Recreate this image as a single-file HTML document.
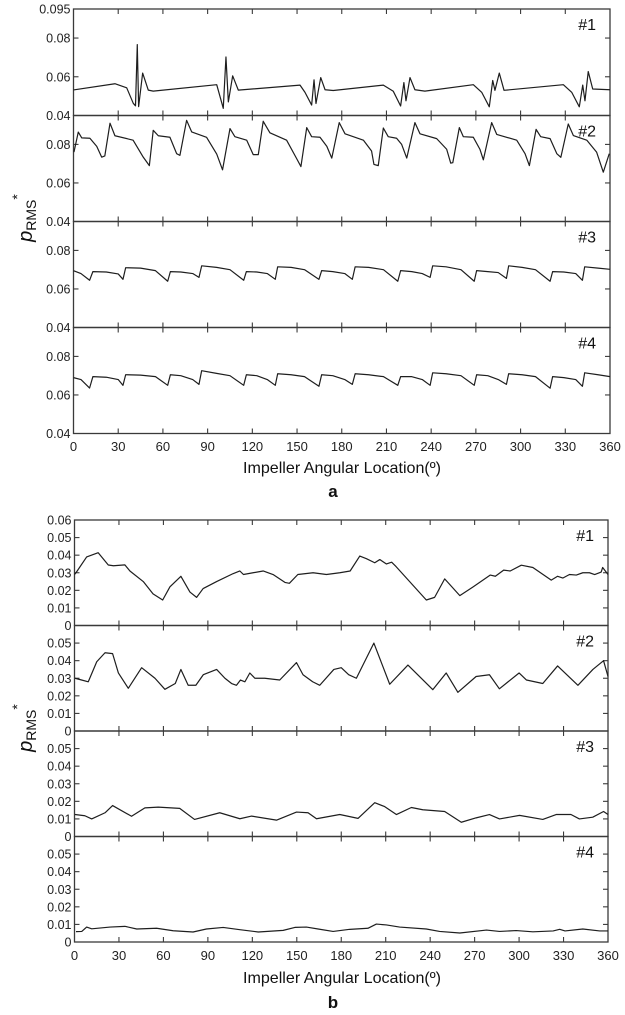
<!DOCTYPE html>
<html><head><meta charset="utf-8"><style>
html,body{margin:0;padding:0;background:#fff;}
svg{display:block;font-family:"Liberation Sans",Arial,sans-serif;}
</style></head><body>
<svg id="fig" width="625" height="1015" viewBox="0 0 625 1015" xmlns="http://www.w3.org/2000/svg"></svg>
<script>
// ---------- data: chart a ----------
const angleTicks = [0,30,60,90,120,150,180,210,240,270,300,330,360];
const a1Angles = [0,27.8,35.7,40.1,41.6,42.8,43.7,46.4,50.2,53.5,96.1,100.5,102.3,103.9,106.8,110.6,152,155.3,159.8,161.4,162.7,165.9,168.8,174.3,207.9,214.6,219.5,221.7,223.1,225.8,229.1,235.8,268.3,273.9,279,281.3,282.8,285.7,288.9,328.7,334.3,339.4,341.7,343.2,345.4,348.4,360];
const a1Values = [0.0532,0.0564,0.0543,0.0463,0.045,0.0766,0.0446,0.0619,0.0531,0.0526,0.0559,0.0437,0.0702,0.047,0.0605,0.0531,0.0557,0.052,0.0454,0.0584,0.0462,0.0596,0.0533,0.0529,0.0557,0.0525,0.0449,0.057,0.0476,0.0596,0.0533,0.0526,0.0559,0.052,0.0445,0.0581,0.053,0.0619,0.053,0.0559,0.052,0.0445,0.0557,0.0476,0.0627,0.0537,0.0533];
const a2Angles = [0.3,3.2,5.5,11,15.6,18.9,21,24.5,27.8,40,46.8,50.9,53.5,56.9,64.7,69.2,71.4,75.9,79.3,89.3,96.1,100,105,108.3,116.2,120.6,124,127.3,131.8,143,149.7,152.6,156.5,159.8,165.4,170,173.3,178.3,182.2,194.5,200,201.6,204.5,207.9,211.2,216.8,220.2,223.6,229.1,232.5,243.7,250.4,253.1,254.5,258.9,261.6,268.3,272.7,275,280.6,284,297.4,303,305.9,310.4,313.5,319.8,324.3,327,332,335.4,344.4,351,355.5,359.5];
const a2Values = [0.076,0.0864,0.0834,0.0832,0.079,0.0734,0.074,0.091,0.0845,0.0822,0.0734,0.069,0.0873,0.0845,0.0837,0.0752,0.0743,0.0925,0.0865,0.0837,0.075,0.0668,0.0882,0.084,0.0822,0.0747,0.0747,0.092,0.086,0.0822,0.0727,0.0685,0.0887,0.084,0.0837,0.079,0.0729,0.0913,0.0855,0.0822,0.0766,0.0696,0.069,0.0885,0.084,0.0832,0.08,0.0729,0.0913,0.0855,0.083,0.0775,0.0703,0.0705,0.0887,0.084,0.0837,0.0775,0.072,0.0913,0.0852,0.0822,0.0752,0.069,0.0878,0.084,0.083,0.0752,0.0733,0.0906,0.0846,0.0822,0.076,0.0656,0.0752];
const a3Angles = [0,5,10.8,13,22,30,33.2,35,45,55,63.2,65,72,80,84.2,86,96,105,114.2,116,123,130,135.4,137,146,155,164.7,166.5,174,182,187.1,189,198,208,217.6,219.5,227,234,239.3,241,250,260,268.9,270.5,278,285,290.5,292,301,310,319.8,321.5,329,337,341.5,343,352,360];
const a3Values = [0.0695,0.068,0.0645,0.069,0.0688,0.0678,0.065,0.071,0.0708,0.0695,0.064,0.069,0.0688,0.068,0.066,0.072,0.0712,0.070,0.0645,0.069,0.0688,0.068,0.065,0.0715,0.0712,0.070,0.065,0.0695,0.069,0.068,0.065,0.0715,0.0712,0.070,0.064,0.0695,0.069,0.068,0.066,0.072,0.0715,0.070,0.064,0.0695,0.069,0.0685,0.0655,0.072,0.0712,0.070,0.064,0.069,0.0688,0.068,0.0645,0.0715,0.0708,0.0702];
const a4Angles = [0,5,10.8,13,22,30,33.2,35,45,55,63.2,65,72,80,84.2,86,96,105,114.2,116,123,130,135.4,137,146,155,164.7,166.5,174,182,187.1,189,198,208,217.6,219.5,227,234,239.3,241,250,260,268.9,270.5,278,285,290.5,292,301,310,319.8,321.5,329,337,341.5,343,352,360];
const a4Values = [0.069,0.068,0.0636,0.0695,0.0692,0.068,0.065,0.0705,0.0703,0.0695,0.065,0.0705,0.070,0.068,0.0655,0.0726,0.0712,0.070,0.065,0.0705,0.070,0.068,0.065,0.071,0.0705,0.0695,0.0645,0.0705,0.070,0.068,0.0655,0.071,0.0705,0.0695,0.065,0.0695,0.0695,0.068,0.065,0.0715,0.071,0.070,0.065,0.0705,0.070,0.068,0.0655,0.071,0.0705,0.0695,0.0635,0.0695,0.069,0.068,0.0645,0.0715,0.0705,0.0695];
const aYTicksTop = [0.095,0.08,0.06,0.04];
const aYTicks = [0.08,0.06,0.04];

// ---------- data: chart b ----------
const b1Angles = [0,1,8.2,16,22.8,26.3,34,37.4,46.4,53,59.5,64.4,71.8,77.9,82.4,86.8,95.9,107,111.6,114,120.5,127.3,134,142,145,150.7,161,170,179,186,192.5,197,202.6,206,210.5,214,217,237.4,243,249.8,260,269,280.6,284,289.6,294,301.5,309.3,321.7,326,329.6,334,338.6,343,347.5,351,355.4,356.4,360];
const b1Values = [0.029,0.030,0.039,0.0414,0.0344,0.034,0.0345,0.031,0.025,0.018,0.0145,0.022,0.028,0.019,0.016,0.021,0.025,0.0295,0.031,0.029,0.030,0.031,0.029,0.0245,0.024,0.029,0.030,0.029,0.030,0.031,0.0395,0.038,0.0357,0.0375,0.035,0.036,0.0335,0.0145,0.016,0.0265,0.017,0.022,0.0287,0.028,0.0315,0.031,0.0343,0.033,0.0258,0.028,0.027,0.029,0.0287,0.030,0.030,0.029,0.0304,0.033,0.029];
const b2Angles = [0.3,4.8,9.3,15,20.6,25.7,29.6,36.3,45.3,54.3,61,68,71.8,76.7,81.9,86.9,95.9,101.5,106,109.3,112,115,118.3,121.7,128.4,138.5,149.8,154.2,160.7,165.5,175,180,185,190.2,202,212.7,225,241.8,250.8,258.7,271,280,286.7,300,305,316,326,339.7,349.8,357,360];
const b2Values = [0.030,0.029,0.028,0.0394,0.0445,0.044,0.033,0.0243,0.036,0.030,0.0237,0.027,0.035,0.026,0.026,0.032,0.035,0.030,0.027,0.026,0.029,0.028,0.033,0.030,0.030,0.029,0.0389,0.032,0.028,0.026,0.035,0.036,0.032,0.030,0.050,0.0266,0.0375,0.0235,0.033,0.022,0.031,0.032,0.024,0.033,0.029,0.027,0.037,0.026,0.035,0.040,0.031];
const b3Angles = [0.3,7,11.6,20.6,25.7,38.5,47.5,56.5,71,81,98,111.6,119.5,136.3,149.8,157.6,163.3,179,191.3,202.6,209.3,217.2,227.3,235,249.8,261,271,280,286.8,300.3,316,325,335,340.7,349.7,357,360];
const b3Values = [0.0125,0.0118,0.010,0.0135,0.0176,0.0115,0.0163,0.0167,0.016,0.0097,0.0135,0.0101,0.0116,0.0093,0.0139,0.0135,0.0101,0.0125,0.0103,0.0192,0.017,0.0125,0.0165,0.0152,0.0142,0.0081,0.0106,0.0125,0.010,0.012,0.0097,0.0125,0.0125,0.010,0.011,0.0142,0.0125];
const b4Angles = [1,4.9,8.2,11.6,24,34,42,55.4,66.6,80,89,100.3,111.6,124,140.8,148.7,156.5,164.4,174.5,185.7,198,203.7,210.5,219.4,237.4,246.4,260,278,286.8,298,309.3,323,327.4,331,343,354.4,360];
const b4Values = [0.0059,0.006,0.0085,0.0075,0.0085,0.0089,0.0074,0.0078,0.0064,0.0057,0.0074,0.0083,0.007,0.0057,0.0066,0.0083,0.0085,0.0074,0.006,0.0072,0.0078,0.0102,0.0097,0.0085,0.0074,0.006,0.0051,0.0068,0.006,0.0065,0.0058,0.0063,0.0072,0.0063,0.0074,0.0063,0.0063];
const bYTicksTop = [0.06,0.05,0.04,0.03,0.02,0.01,0];
const bYTicks = [0.05,0.04,0.03,0.02,0.01,0];

const NS = "http://www.w3.org/2000/svg";
const svg = document.getElementById('fig');
function mk(tag, attrs, parent){
  const e = document.createElementNS(NS, tag);
  for (const k in attrs) e.setAttribute(k, attrs[k]);
  (parent||svg).appendChild(e);
  return e;
}

function drawPanel(opt){
  const g = mk('g', {});
  
  
  const L=opt.x0, R=opt.x1, T=opt.top, B=opt.bot;
  const xs = a => L + (a-0)/(360-0)*(R-L);
  const ys = v => B - (v-opt.ymin)/(opt.ymax-opt.ymin)*(B-T);
  const fr = mk('rect', {x:L, y:T, width:R-L, height:B-T, fill:'none', stroke:'#3a3a3a', 'stroke-width':1.3}, g);
  
  
  angleTicks.forEach(a=>{
    if (a===0||a===360) return;
    const t1 = mk('line', {x1:xs(a), x2:xs(a), y1:T, y2:T+5, stroke:'#3a3a3a','stroke-width':1.1}, g);
    
    
    const t2 = mk('line', {x1:xs(a), x2:xs(a), y1:B, y2:B-5, stroke:'#3a3a3a','stroke-width':1.1}, g);
    
    
  });
  opt.yticks.forEach(v=>{
    const y = ys(v);
    if (Math.abs(y-T)>1 && Math.abs(y-B)>1){
      const l1 = mk('line', {x1:L, x2:L+5, y1:y, y2:y, stroke:'#3a3a3a','stroke-width':1.1}, g);
      
      
      const l2 = mk('line', {x1:R, x2:R-5, y1:y, y2:y, stroke:'#3a3a3a','stroke-width':1.1}, g);
      
      
    }
    const tx = mk('text', {x:L-3, y:y+4.5, 'font-size':12.5, 'text-anchor':'end', fill:'#222'}, g);
    
    
    tx.textContent = String(v);
  });
  let d='';
  opt.ang.forEach((a,i)=>{ d += (i?'L':'M') + xs(a).toFixed(2) + ',' + ys(opt.val[i]).toFixed(2); });
  const p = mk('path', {d:d, fill:'none', stroke:'#1e1e1e', 'stroke-width':1.2, 'stroke-linejoin':'round'}, g);
  
  
  const lb = mk('text', {x:R-14, y:T+21, 'font-size':16, 'text-anchor':'end', fill:'#111'}, g);
  
  
  lb.textContent = opt.label;
}

function xAxisLabels(x0,x1,y){
  angleTicks.forEach(a=>{
    const t = mk('text', {x:x0+a/360*(x1-x0), y:y, 'font-size':13, 'text-anchor':'middle', fill:'#222'});
    
    
    t.textContent = String(a);
  });
}

const aTops=[9,115.5,221.5,327.5,433.5];
const aSeries=[[a1Angles,a1Values],[a2Angles,a2Values],[a3Angles,a3Values],[a4Angles,a4Values]];
aSeries.forEach((s,i)=>{
  drawPanel({name:'chart-a-panel-'+(i+1), x0:73.5, x1:610, top:aTops[i], bot:aTops[i+1], ymin:0.04, ymax:0.095,
    yticks: i===0?aYTicksTop:aYTicks, ang:s[0], val:s[1], label:'#'+(i+1)});
});
xAxisLabels(73.5,610,451);

const bTops=[520,625.5,731,836.5,942];
const bSeries=[[b1Angles,b1Values],[b2Angles,b2Values],[b3Angles,b3Values],[b4Angles,b4Values]];
bSeries.forEach((s,i)=>{
  drawPanel({name:'chart-b-panel-'+(i+1), x0:74.5, x1:608, top:bTops[i], bot:bTops[i+1], ymin:0, ymax:0.06,
    yticks: i===0?bYTicksTop:bYTicks, ang:s[0], val:s[1], label:'#'+(i+1)});
});
xAxisLabels(74.5,608,960);

function title(x,y,txt,name,extra){
  const t = mk('text', Object.assign({x:x,y:y,'font-size':16,'text-anchor':'middle',fill:'#111'}, extra||{}));
  
  
  t.textContent = txt;
  return t;
}
title(342,473,'Impeller Angular Location(º)','x-axis-title-a',{textLength:198,lengthAdjust:'spacingAndGlyphs'});
title(333,497,'a','subfigure-label-a',{'font-weight':'bold','font-size':17});
title(342,983,'Impeller Angular Location(º)','x-axis-title-b',{textLength:198,lengthAdjust:'spacingAndGlyphs'});
title(333,1008,'b','subfigure-label-b',{'font-weight':'bold','font-size':17});

function ylabel(cx,cy,name){
  const t = mk('text', {x:0,y:0,'font-size':20,'text-anchor':'middle',fill:'#111',transform:`translate(${cx},${cy}) rotate(-90)`});
  
  
  const p1 = mk('tspan', {'font-style':'italic'}, t); p1.textContent='p';
  const p2 = mk('tspan', {'font-size':14,dy:4}, t); p2.textContent='RMS';
  const p3 = mk('tspan', {'font-size':14,dy:-14}, t); p3.textContent='*';
}
ylabel(32,218,'y-axis-title-a');
ylabel(32,728,'y-axis-title-b');
</script>
</body></html>
